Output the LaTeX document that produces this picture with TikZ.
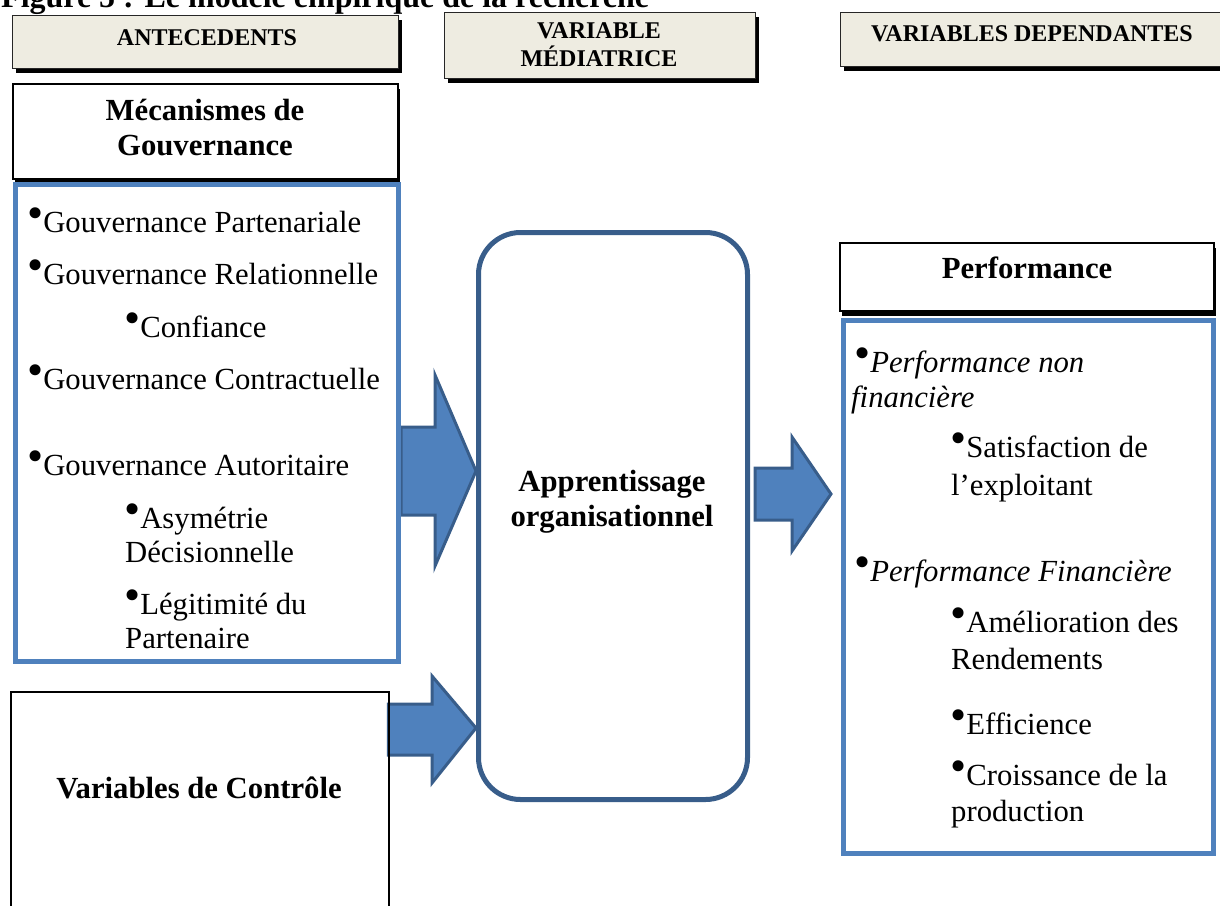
\documentclass[tikz,border=0pt]{standalone}
\usepackage{graphicx}
\usepackage{fontspec}
\setmainfont{Liberation Serif}
\usetikzlibrary{shadows}
\definecolor{lblue}{HTML}{4F81BD}
\definecolor{dblue}{HTML}{385D8A}
\definecolor{tanfill}{HTML}{EEECE1}
\newcommand{\bul}{\raisebox{0.13em}{\scalebox{1.5}{\upshape\textbullet}}}
\begin{document}
\begin{tikzpicture}[x=1pt,y=-1pt,
  hdr/.style={draw=black!85, line width=1.2pt, fill=tanfill, inner sep=0, anchor=north west,
    drop shadow={shadow xshift=3pt,shadow yshift=-4pt,opacity=1,fill=black}},
  hdrtxt/.style={font=\bfseries\fontsize{24}{28}\selectfont, align=center, inner sep=0},
  titlebox/.style={draw=black, line width=1.5pt, fill=white, inner sep=0, anchor=north west,
    drop shadow={shadow xshift=2pt,shadow yshift=-5pt,opacity=1,fill=black}},
  ttxt/.style={font=\bfseries\fontsize{30.7}{35}\selectfont, align=center, inner sep=0},
  listbox/.style={draw=lblue, line width=5pt, inner sep=0, anchor=north west},
  item/.style={font=\fontsize{30.7}{36}\selectfont, inner sep=0, anchor=base west},
  barrow/.style={fill=lblue, draw=dblue, line width=3pt, line join=miter},
]
\useasboundingbox (0,0) rectangle (1220,905);
\clip (0,0) rectangle (1220,905);

% title (cut by the top edge)
\node[font=\bfseries\fontsize{32}{36}\selectfont, inner sep=0, anchor=base west] (title) at (1,7) {Figure 5 : Le modèle empirique de la recherche};

% boxes used as anchors for arrows
\path (13,182) node[listbox, draw=none, minimum width=383pt, minimum height=477pt] (list) {};
\path (476,230) node[inner sep=0, anchor=north west, minimum width=269pt, minimum height=567pt] (app) {};
\path (10,691) node[inner sep=0, anchor=north west, minimum width=378pt, minimum height=260pt] (ctrl) {};

% block arrows
\draw[barrow] (list.east |- 0,427) -- (435,427) -- (435,375) -- (app.west |- 0,471) -- (435,566) -- (435,515) -- (list.east |- 0,515) -- cycle;
\draw[barrow] (755,468) -- (792,468) -- (792,437) -- (831,494) -- (792,551) -- (792,520) -- (755,520) -- cycle;
\draw[barrow] (ctrl.east |- 0,704) -- (432,704) -- (432,676) -- (app.west |- 0,728) -- (432,783) -- (432,755) -- (ctrl.east |- 0,755) -- cycle;

% headers
\node[hdr, minimum width=386pt, minimum height=53pt] (h1) at (12,15) {};
\node[hdr, minimum width=311pt, minimum height=66pt] (h2) at (444,12) {};
\node[hdr, minimum width=384pt, minimum height=54pt] (h3) at (840,12) {};
\node[hdrtxt] (h1t) at (207,38) {ANTECEDENTS};
\node[hdrtxt] (h2t) at (599,45) {VARIABLE\\MÉDIATRICE};
\node[hdrtxt] (h3t) at (1032,34) {VARIABLES DEPENDANTES};

% left column
\node[titlebox, minimum width=385pt, minimum height=95pt] (mec) at (12,83) {};
\node[ttxt] (mect) at (205,128) {Mécanismes de\\Gouvernance};
\node[listbox, minimum width=383pt, minimum height=477pt] (listb) at (13,182) {};
\node[item] (l1) at (27,232) {\bul Gouvernance Partenariale};
\node[item] (l2) at (27,284) {\bul Gouvernance Relationnelle};
\node[item] (l3) at (124,337) {\bul Confiance};
\node[item] (l4) at (27,389) {\bul Gouvernance Contractuelle};
\node[item] (l5) at (27,475) {\bul Gouvernance Autoritaire};
\node[item] (l6) at (124,528) {\bul Asymétrie};
\node[item] (l6b) at (125,562) {Décisionnelle};
\node[item] (l7) at (124,614) {\bul Légitimité du};
\node[item] (l7b) at (125,648) {Partenaire};

\node[draw=black, line width=1.5pt, inner sep=0, anchor=north west, minimum width=378pt, minimum height=260pt] (ctrlb) at (10,691) {};
\node[ttxt] (ctrlt) at (199,788) {Variables de Contrôle};

% middle
\node[draw=dblue, line width=5pt, rounded corners=42pt, inner sep=0, anchor=north west, minimum width=269pt, minimum height=567pt] (appb) at (476,230) {};
\node[ttxt] (appt) at (612,502) {Apprentissage\\organisationnel};

% right column
\node[titlebox, minimum width=374pt, minimum height=68pt] (perf) at (839,242) {};
\node[ttxt] (perft) at (1027,268) {Performance};
\node[listbox, minimum width=370pt, minimum height=533pt] (rlist) at (841,318) {};
\node[item] (r1) at (854,372) {\bul\itshape Performance non};
\node[item, font=\itshape\fontsize{30.7}{36}\selectfont] (r1b) at (851,407) {financière};
\node[item] (r2) at (950,457) {\bul Satisfaction de};
\node[item] (r2b) at (951,495) {l’exploitant};
\node[item] (r3) at (854,581) {\bul\itshape Performance Financière};
\node[item] (r4) at (950,632) {\bul Amélioration des};
\node[item] (r4b) at (951,669) {Rendements};
\node[item] (r5) at (950,734) {\bul Efficience};
\node[item] (r6) at (950,785) {\bul Croissance de la};
\node[item] (r6b) at (951,821) {production};
\end{tikzpicture}
\end{document}
